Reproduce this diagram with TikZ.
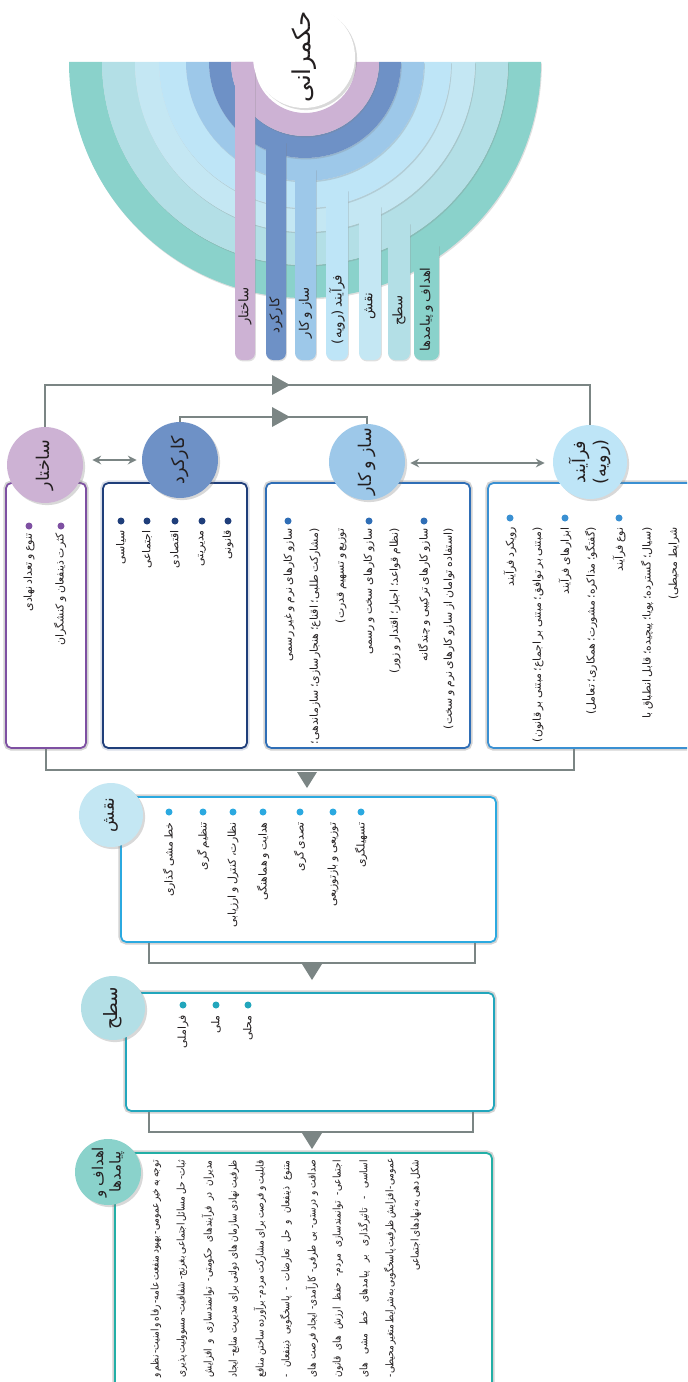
\documentclass[tikz,border=0pt]{standalone}
\usepackage{fontspec}
\setmainfont{DejaVu Sans}
\newfontfamily\fa[Script=Arabic,WordSpace=0.75]{DejaVu Sans}
\TeXXeTstate=1
\usetikzlibrary{shadows,arrows.meta,calc}
\definecolor{cA}{HTML}{CDB2D4}
\definecolor{cB}{HTML}{6E91C6}
\definecolor{cC}{HTML}{9DC8E9}
\definecolor{cD}{HTML}{BEE5F7}
\definecolor{cE}{HTML}{C4E7F3}
\definecolor{cF}{HTML}{B3DFE6}
\definecolor{cG}{HTML}{8AD2CB}
\definecolor{bA}{HTML}{7E50A2}
\definecolor{bB}{HTML}{1F3E7A}
\definecolor{bC}{HTML}{2F6EB6}
\definecolor{bD}{HTML}{3A90D2}
\definecolor{bE}{HTML}{2BA9E0}
\definecolor{bF}{HTML}{22A6BC}
\definecolor{bG}{HTML}{23AFA6}
\definecolor{conn}{HTML}{7B8584}
\definecolor{ink}{HTML}{231F20}
\newcommand\TL[4]{\node[txt] (#1) at (#2,#3) {#4};}
\newcommand\BU[4]{\node[bul,fill=#4] (#1) at (#2,#3) {};}
\newcommand\JL[4]{\node[ptxt] (#1) at (#2,#3) {\scalebox{0.85}[1]{\makebox[5.1cm][s]{#4}}};}
\begin{document}
\begin{tikzpicture}[x=0.02cm,y=-0.02cm,
  txt/.style={rotate=90,anchor=east,inner sep=0pt,text=ink,font=\fa\fontsize{6.2}{8}\selectfont},
  ptxt/.style={rotate=90,anchor=east,inner sep=0pt,text=ink,font=\fa\fontsize{6}{7}\selectfont},
  slab/.style={rotate=90,anchor=east,inner sep=0pt,text=ink,font=\fa\fontsize{7.5}{9}\selectfont},
  clab/.style={rotate=90,inner sep=0pt,text=ink,align=center,font=\fa\fontsize{10}{12}\selectfont},
  bul/.style={circle,inner sep=0pt,minimum size=0.14cm},
  shd/.style={drop shadow={shadow xshift=1.2pt,shadow yshift=-1.2pt,opacity=0.3}},
  bshd/.style={preaction={draw=#1,line width=3pt,opacity=0.35}},
  ring/.style={drop shadow={shadow xshift=0.5pt,shadow yshift=-0.8pt,opacity=0.25}},
  circ/.style={circle,inner sep=0pt,shd},
  box/.style={draw,rounded corners=3pt,line width=1pt,fill=white,inner sep=0pt},
  cn/.style={draw=conn,line width=1pt},
  dbl/.style={draw=conn,line width=0.9pt,{Stealth[length=5pt,width=5pt]}-{Stealth[length=5pt,width=5pt]}}
]
\useasboundingbox (0,0) rectangle (687,1382);
\clip (0,0) rectangle (687,1382);

% ---- arch graphic ----
\foreach \ri/\ro/\col/\sl/\sr/\ys in {
  203/236/cG/414/439/245,
  170/203/cF/388/410/223,
  146/170/cE/359/381/206,
  119/146/cD/326/348/190,
  96/119/cC/295/316/169,
  74/96/cB/266/286/142,
  51/74/cA/235/255/62}{
  \fill[\col,ring] ({305-\ro},62) arc[start angle=180,end angle=0,radius=\ro]
     -- ({305+\ri},62) arc[start angle=0,end angle=180,radius=\ri] -- cycle;
  \fill[\col,ring] (\sl,\ys) [rounded corners=4pt] -- (\sl,360) -- (\sr,360) [sharp corners] -- (\sr,\ys) -- cycle;
}
\node[circ,fill=white,minimum size=2.04cm] (gc) at (304,57) {};
\node[clab,font=\fa\fontsize{14}{16}\selectfont] (gcl) at (gc) {\beginR حکمرانی\endR};

\node[slab] (l1) at (245,287) {\beginR ساختار\endR};
\node[slab] (l2) at (276,297) {\beginR کارکرد\endR};
\node[slab] (l3) at (305.5,287) {\beginR ساز و کار\endR};
\node[slab] (l4) at (337,275) {\beginR فرآیند (رویه)\endR};
\node[slab] (l5) at (370,292) {\beginR نقش\endR};
\node[slab] (l6) at (399,295) {\beginR سطح\endR};
\node[slab] (l7) at (426.5,267) {\beginR اهداف و پیامدها\endR};

% ---- first row boxes ----
\node[box,draw=bA,bshd=gray,minimum width=1.6cm,minimum height=5.3cm] (sb) at (46,615.5) {};
\node[box,draw=bB,bshd=bB!50,minimum width=2.88cm,minimum height=5.3cm] (kb) at (175,615.5) {};
\node[box,draw=bC,bshd=gray,minimum width=4.08cm,minimum height=5.3cm] (zb) at (368,615.5) {};
\node[box,draw=bD,bshd=gray,minimum width=4.84cm,minimum height=5.3cm] (fb) at (609,615.5) {};

\node[circ,fill=cA,minimum size=1.52cm] (sc) at (45,465) {};
\node[circ,fill=cB,minimum size=1.52cm] (kc) at (180,460) {};
\node[circ,fill=cC,minimum size=1.52cm] (zc) at (367,462) {};
\node[circ,fill=cD,minimum size=1.48cm] (fc) at (590,462) {};
\node[clab] (scl) at (sc) {\beginR ساختار\endR};
\node[clab] (kcl) at (kc) {\beginR کارکرد\endR};
\node[clab] (zcl) at (zc) {\beginR ساز و کار\endR};
\node[clab] (fcl) at (fc) {\beginR فرآیند\endR\\\beginR(رویه)\endR};

% connectors top
\coordinate (t1) at (0,385);
\coordinate (t2) at (0,417);
\draw[cn] (sc.north) -- (sc.north |- t1) -- (fc.north |- t1) -- (fc.north);
\draw[cn] (kc.north) -- (kc.north |- t2) -- (zc.north |- t2) -- (zc.north);
\coordinate (a1) at (281,385);
\coordinate (a2) at (281,417);
\fill[conn] (a1) ++(-9,-10) -- ++(18,10) -- ++(-18,10) -- cycle;
\fill[conn] (a2) ++(-9,-10) -- ++(18,10) -- ++(-18,10) -- cycle;
\draw[dbl] ($(sc.east)+(9,-5)$) -- ($(kc.west)+(-5,0)$);
\draw[dbl] ($(zc.east)+(5,1)$) -- ($(fc.west)+(-8,1)$);

% ---- box texts ----
\BU{sb1}{29}{526}{bA}\BU{sb2}{61}{526}{bA}
\TL{st1}{29}{533}{\beginR تنوع و تعداد نهادی\endR}
\TL{st2}{60}{533}{\beginR کثرت ذینفعان و کنشگران\endR}

\BU{kb1}{121}{521}{bB}\BU{kb2}{147}{521}{bB}\BU{kb3}{175}{521}{bB}\BU{kb4}{202}{521}{bB}\BU{kb5}{228}{521}{bB}
\TL{kt1}{121}{530}{\beginR سیاسی\endR}
\TL{kt2}{147}{530}{\beginR اجتماعی\endR}
\TL{kt3}{175}{530}{\beginR اقتصادی\endR}
\TL{kt4}{202}{530}{\beginR مدیریتی\endR}
\TL{kt5}{228}{530}{\beginR قانونی\endR}

\BU{zb1}{288}{521}{bC}\BU{zb2}{369}{521}{bC}\BU{zb3}{424}{521}{bC}
\TL{zt1}{289}{528}{\beginR سازو کارهای نرم و غیر رسمی\endR}
\TL{zt2}{315}{528}{\beginR (مشارکت طلبی؛ اقناع؛ هنجارسازی؛ سازماندهی؛\endR}
\TL{zt3}{341}{528}{\beginR توزیع و تسهیم قدرت)\endR}
\TL{zt4}{369}{528}{\beginR سازو کارهای سخت و رسمی\endR}
\TL{zt5}{395}{528}{\beginR (نظام قواعد؛ اجبار؛ اقتدار و زور)\endR}
\TL{zt6}{424}{528}{\beginR سازو کارهای ترکیبی و چندگانه\endR}
\TL{zt7}{449}{528}{\beginR (استفاده توامان از سازو کارهای نرم و سخت)\endR}

\BU{fb1}{510}{518}{bD}\BU{fb2}{565}{518}{bD}\BU{fb3}{619}{518}{bD}
\TL{ft1}{510}{527}{\beginR رویکرد فرآیند\endR}
\TL{ft2}{538}{527}{\beginR (مبتنی بر توافق؛ مبتنی بر اجماع؛ مبتنی بر قانون)\endR}
\TL{ft3}{565}{527}{\beginR ابزارهای فرآیند\endR}
\TL{ft4}{591}{527}{\beginR (گفتگو؛ مذاکره؛ مشورت؛ همکاری؛ تعامل)\endR}
\TL{ft5}{619}{527}{\beginR نوع فرآیند\endR}
\TL{ft6}{647}{527}{\beginR (سیال؛ گسترده؛ پویا؛ پیچیده؛ قابل انطباق با\endR}
\TL{ft7}{674}{527}{\beginR شرایط محیطی)\endR}

% connector below first row
\coordinate (t3) at (0,770);
\coordinate (fbb) at ($(fb.south west)+(87,0)$);
\draw[cn] (sb.south) -- (sb.south |- t3) -- (fbb |- t3) -- (fbb);
\coordinate (a3) at (307,770);
\fill[conn] (a3) ++(-10,2) -- ++(20,0) -- ++(-10,16) -- cycle;

% ---- naqsh ----
\node[box,draw=bE,bshd=gray,minimum width=7.5cm,minimum height=2.9cm] (nb) at (308.5,869.5) {};
\node[circ,fill=cE,minimum size=1.28cm] (nc) at (111,815) {};
\node[clab,font=\fa\fontsize{9.5}{11}\selectfont] (ncl) at (nc) {\beginR نقش\endR};
\BU{nb1}{169}{812}{bE}\BU{nb2}{203}{812}{bE}\BU{nb3}{233}{812}{bE}\BU{nb4}{263}{812}{bE}\BU{nb5}{300}{812}{bE}\BU{nb6}{333}{812}{bE}\BU{nb7}{361}{812}{bE}
\TL{nt1}{169}{822}{\beginR خط مشی گذاری\endR}
\TL{nt2}{203}{822}{\beginR تنظیم گری\endR}
\TL{nt3}{233}{822}{\beginR نظارت، کنترل و ارزیابی\endR}
\TL{nt4}{263}{822}{\beginR هدایت و هماهنگی\endR}
\TL{nt5}{300}{822}{\beginR تصدی گری\endR}
\TL{nt6}{333}{822}{\beginR توزیعی و بازتوزیعی\endR}
\TL{nt7}{361}{822}{\beginR تسهیلگری\endR}

\coordinate (t4) at (0,963);
\coordinate (nbl) at ($(nb.south west)+(29,0)$);
\coordinate (nbr) at ($(nb.south east)+(-22,0)$);
\draw[cn] (nbl) -- (nbl |- t4) -- (nbr |- t4) -- (nbr);
\coordinate (a4) at (312,963);
\fill[conn] (a4) ++(-10,1) -- ++(20,0) -- ++(-10,16) -- cycle;

% ---- sath ----
\node[box,draw=bF,bshd=gray,minimum width=7.36cm,minimum height=2.36cm] (tb) at (310,1052) {};
\node[circ,fill=cF,minimum size=1.28cm] (tc) at (113,1008) {};
\node[clab,font=\fa\fontsize{10.5}{12}\selectfont] (tcl) at (tc) {\beginR سطح\endR};
\BU{tb1}{183}{1005}{bF}\BU{tb2}{216}{1005}{bF}\BU{tb3}{248}{1005}{bF}
\TL{tt1}{183}{1015}{\beginR فراملی\endR}
\TL{tt2}{216}{1015}{\beginR ملی\endR}
\TL{tt3}{248}{1015}{\beginR محلی\endR}

\coordinate (t5) at (0,1132);
\coordinate (tbl) at ($(tb.south west)+(24,0)$);
\coordinate (tbr) at ($(tb.south east)+(-22,0)$);
\draw[cn] (tbl) -- (tbl |- t5) -- (tbr |- t5) -- (tbr);
\coordinate (a5) at (312,1132);
\fill[conn] (a5) ++(-10,1) -- ++(20,0) -- ++(-10,16) -- cycle;

% ---- ahdaf ----
\node[box,draw=bG,bshd=gray,minimum width=7.54cm,minimum height=5.34cm] (hb) at (303.5,1286.5) {};
\node[circ,fill=cG,minimum size=1.32cm] (hc) at (108,1172) {};
\node[clab,font=\fa\fontsize{8.5}{10}\selectfont] (hcl) at (hc) {\beginR اهداف و\endR\\\beginR پیامدها\endR};
\JL{h1}{156}{1160}{\beginR توجه به خیر عمومی- بهبود منفعت عامه- رفاه و امنیت- نظم و\endR}
\JL{h2}{182}{1160}{\beginR ثبات- حل مسائل اجتماعی بغرنج- شفافیت- مسوولیت پذیری\endR}
\JL{h3}{208}{1160}{\beginR مدیران در فرآیندهای حکومتی- توانمندسازی و افزایش\endR}
\JL{h4}{234}{1160}{\beginR ظرفیت نهادی سازمان های دولتی برای مدیریت منابع- ایجاد\endR}
\JL{h5}{260}{1160}{\beginR قابلیت و فرصت برای مشارکت مردم- برآورده ساختن منافع\endR}
\JL{h6}{286}{1160}{\beginR متنوع ذینفعان و حل تعارضات - پاسخگویی ذینفعان -\endR}
\JL{h7}{312}{1160}{\beginR صداقت و درستی- بی طرفی- کارآمدی- ایجاد فرصت های\endR}
\JL{h8}{338}{1160}{\beginR اجتماعی- توانمندسازی مردم- حفظ ارزش های قانون\endR}
\JL{h9}{364}{1160}{\beginR اساسی - تاثیرگذاری بر پیامدهای خط مشی های\endR}
\JL{h10}{390}{1160}{\beginR عمومی- افزایش ظرفیت پاسخگویی به شرایط متغیر محیطی-\endR}
\node[ptxt] (h11) at (416,1160) {\scalebox{0.85}[1]{\beginR شکل دهی به نهادهای اجتماعی\endR}};
\end{tikzpicture}
\end{document}
